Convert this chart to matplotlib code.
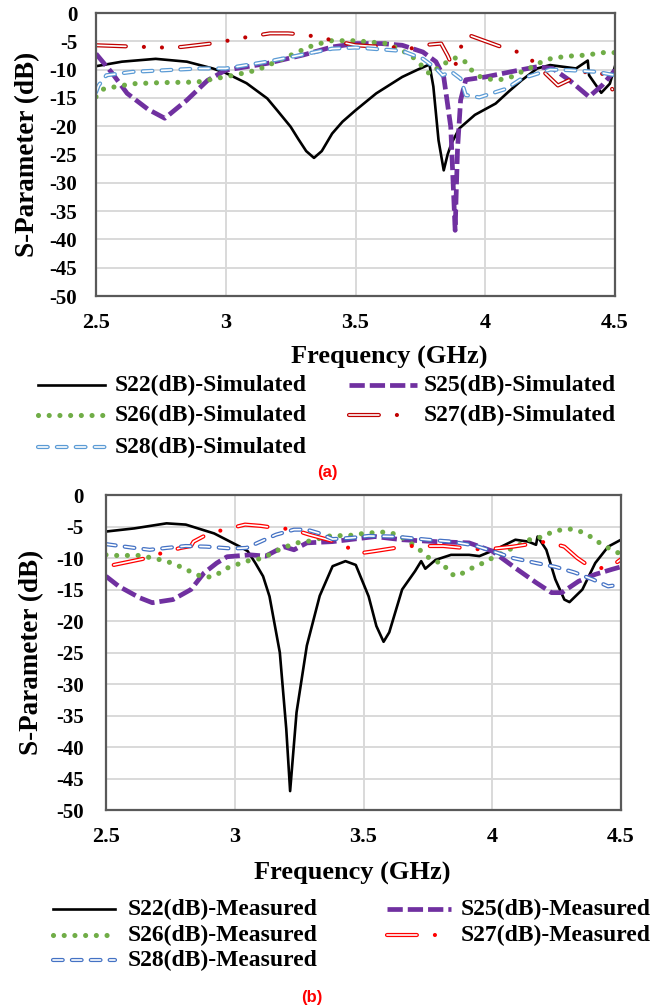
import matplotlib
matplotlib.use("Agg")
import matplotlib.pyplot as plt
from matplotlib.lines import Line2D

plt.rcParams['lines.scale_dashes'] = False
plt.rcParams['font.family'] = ['Liberation Serif', 'DejaVu Serif']
plt.rcParams['font.weight'] = 'bold'

# ---------------- data: (a) simulated ----------------
s22_sim_f = [2.50, 2.60, 2.73, 2.85, 2.95, 3.00, 3.08, 3.16, 3.20, 3.25, 3.28, 3.31, 3.34, 3.37, 3.41,
             3.45, 3.50, 3.58, 3.68, 3.74, 3.785, 3.80, 3.82, 3.84, 3.855, 3.87, 3.90, 3.96, 4.04, 4.09,
             4.14, 4.20, 4.25, 4.35, 4.395, 4.40, 4.447, 4.48, 4.50]
s22_sim_db = [-9.4, -8.6, -8.1, -8.6, -9.8, -10.6, -12.4, -15.1, -17.3, -20.1, -22.3, -24.4, -25.6, -24.4, -21.3,
              -19.2, -17.2, -14.2, -11.3, -10.0, -9.1, -13.0, -22.5, -27.8, -25.0, -23.0, -20.4, -18.0, -16.0, -13.9,
              -11.9, -9.8, -9.2, -9.8, -8.4, -11.0, -14.1, -12.5, -9.4]

s25_sim_f = [2.50, 2.56, 2.62, 2.70, 2.765, 2.85, 2.93, 3.00, 3.08, 3.16, 3.30, 3.41, 3.50, 3.60, 3.68,
             3.76, 3.81, 3.84, 3.867, 3.884, 3.893, 3.905, 3.925, 4.00, 4.13, 4.20, 4.26, 4.325, 4.40, 4.45, 4.50]
s25_sim_db = [-7.2, -10.5, -14.2, -17.0, -18.6, -15.4, -11.9, -10.1, -9.5, -8.9, -7.4, -6.0, -5.4, -5.4, -5.7,
              -6.9, -8.6, -11.3, -20.1, -38.4, -24.2, -15.4, -11.8, -11.3, -10.1, -9.5, -9.8, -11.9, -14.8, -12.8, -10.1]

s26_sim_f = [2.50, 2.53, 2.64, 2.75, 2.89, 2.96, 3.03, 3.12, 3.22, 3.32, 3.40, 3.50, 3.62, 3.68, 3.73,
             3.786, 3.835, 3.887, 3.92, 3.945, 3.977, 4.02, 4.055, 4.10, 4.13, 4.17, 4.21, 4.25, 4.29, 4.33,
             4.37, 4.41, 4.45, 4.50]
s26_sim_db = [-14.8, -13.4, -12.5, -12.3, -12.2, -11.6, -11.0, -10.1, -8.1, -6.0, -4.9, -4.9, -5.4, -6.6, -8.1,
              -10.8, -9.1, -7.9, -8.5, -10.0, -11.2, -11.7, -11.8, -11.3, -10.6, -9.8, -8.8, -8.1, -7.8, -7.6,
              -7.5, -7.3, -7.0, -7.0]

s27_sim_f = [2.50, 2.62, 2.69, 2.76, 2.83, 2.96, 3.03, 3.10, 3.17, 3.24, 3.30, 3.37, 3.44, 3.50, 3.57,
             3.63, 3.71, 3.78, 3.83, 3.855, 3.88, 3.90, 3.93, 3.99, 4.05, 4.12, 4.18, 4.23, 4.28, 4.34,
             4.40, 4.45, 4.49]
s27_sim_db = [-5.7, -5.9, -6.0, -6.1, -6.0, -5.3, -4.7, -4.1, -3.6, -3.6, -3.8, -4.4, -5.1, -5.7, -5.9,
              -6.0, -6.3, -5.6, -5.4, -7.5, -10.1, -6.6, -3.8, -4.8, -5.8, -6.8, -8.4, -10.6, -12.8, -11.5,
              -10.1, -10.7, -13.5]

s28_sim_f = [2.50, 2.51, 2.54, 2.64, 2.77, 2.90, 3.00, 3.16, 3.28, 3.41, 3.50, 3.68, 3.76, 3.81, 3.835,
             3.87, 3.905, 3.925, 3.977, 4.08, 4.14, 4.25, 4.325, 4.43, 4.50]
s28_sim_db = [-14.0, -12.8, -11.0, -10.4, -10.1, -9.8, -9.8, -8.6, -7.5, -6.3, -6.1, -6.7, -8.1, -9.8, -11.0,
              -10.4, -11.6, -14.5, -14.9, -13.4, -11.6, -10.0, -10.1, -10.4, -11.0]

# ---------------- data: (b) measured ----------------
s22_mea_f = [2.50, 2.61, 2.735, 2.81, 2.92, 3.02, 3.05, 3.08, 3.11, 3.135, 3.175, 3.20, 3.215, 3.24, 3.28,
             3.33, 3.38, 3.43, 3.47, 3.52, 3.55, 3.578, 3.60, 3.65, 3.70, 3.724, 3.74, 3.78, 3.84, 3.91,
             3.95, 4.01, 4.09, 4.14, 4.17, 4.176, 4.21, 4.245, 4.28, 4.30, 4.35, 4.40, 4.45, 4.50]
s22_mea_db = [-5.8, -5.3, -4.5, -4.7, -6.1, -8.2, -8.9, -10.8, -12.9, -16.1, -25.0, -37.1, -47.0, -34.5, -23.9,
              -16.0, -11.3, -10.5, -11.1, -16.1, -20.8, -23.3, -21.8, -15.0, -12.1, -10.5, -11.7, -10.3, -9.5, -9.5,
              -9.7, -8.7, -7.1, -7.4, -7.9, -6.6, -8.7, -13.4, -16.6, -17.0, -15.0, -10.8, -8.2, -7.1]

s25_mea_f = [2.50, 2.55, 2.63, 2.68, 2.76, 2.83, 2.88, 2.93, 2.97, 3.06, 3.12, 3.19, 3.23, 3.28, 3.38,
             3.545, 3.65, 3.78, 3.91, 4.00, 4.09, 4.17, 4.23, 4.27, 4.335, 4.40, 4.465, 4.50]
s25_mea_db = [-12.9, -14.5, -16.3, -17.1, -16.6, -15.0, -12.4, -10.8, -9.8, -9.5, -9.7, -8.2, -8.7, -7.6, -7.4,
              -6.6, -7.1, -7.4, -7.6, -8.9, -11.6, -13.9, -15.5, -15.5, -13.7, -12.6, -11.8, -11.4]

s26_mea_f = [2.50, 2.53, 2.63, 2.68, 2.735, 2.79, 2.84, 2.88, 2.92, 2.97, 3.045, 3.09, 3.12, 3.16, 3.20,
             3.24, 3.28, 3.38, 3.435, 3.48, 3.56, 3.60, 3.64, 3.675, 3.71, 3.74, 3.77, 3.81, 3.83, 3.86,
             3.895, 3.93, 3.97, 4.00, 4.04, 4.08, 4.12, 4.16, 4.195, 4.23, 4.27, 4.31, 4.35, 4.39, 4.42,
             4.455, 4.50]
s26_mea_db = [-9.5, -9.6, -9.6, -10.0, -10.5, -11.4, -12.4, -13.1, -12.9, -11.6, -10.5, -10.2, -9.8, -8.9, -8.2,
              -7.6, -7.4, -6.4, -6.5, -6.2, -5.9, -5.9, -6.5, -7.4, -8.4, -9.5, -10.5, -10.8, -12.3, -12.9,
              -12.2, -11.4, -10.7, -10.0, -9.2, -8.4, -7.6, -6.8, -6.7, -5.9, -5.5, -5.4, -5.9, -6.8, -7.7,
              -8.5, -9.4]

s27_mea_f = [2.53, 2.66, 2.725, 2.79, 2.83, 2.84, 2.90, 2.97, 3.04, 3.10, 3.17, 3.22, 3.29, 3.39, 3.41,
             3.477, 3.545, 3.67, 3.74, 3.81, 3.94, 4.01, 4.08, 4.21, 4.28, 4.33, 4.38, 4.45, 4.50]
s27_mea_db = [-11.1, -10.0, -9.1, -8.4, -8.1, -7.4, -6.1, -5.4, -4.7, -4.9, -5.3, -5.4, -6.3, -7.4, -7.6,
              -9.3, -8.9, -8.1, -8.1, -8.1, -8.6, -8.5, -8.2, -7.4, -8.2, -10.0, -11.4, -11.7, -10.2]

s28_mea_f = [2.50, 2.61, 2.67, 2.735, 2.81, 2.89, 2.99, 3.045, 3.10, 3.16, 3.23, 3.28, 3.33, 3.38, 3.455,
             3.52, 3.62, 3.75, 3.84, 3.93, 4.00, 4.08, 4.17, 4.245, 4.32, 4.39, 4.45, 4.50]
s28_mea_db = [-7.8, -8.4, -8.7, -8.4, -8.1, -8.2, -8.5, -8.4, -7.4, -6.3, -5.5, -5.5, -6.1, -7.0, -6.8,
              -6.5, -6.6, -7.1, -7.4, -8.0, -8.9, -10.0, -10.8, -11.4, -12.3, -13.4, -14.5, -14.2]

x_ticks = [2.5, 3.0, 3.5, 4.0, 4.5]
x_tick_labels = ['2.5', '3', '3.5', '4', '4.5']
y_ticks = [0, -5, -10, -15, -20, -25, -30, -35, -40, -45, -50]
y_tick_labels = ['0', '-5', '-10', '-15', '-20', '-25', '-30', '-35', '-40', '-45', '-50']

labels_sim = ['S22(dB)-Simulated', 'S25(dB)-Simulated', 'S26(dB)-Simulated',
              'S27(dB)-Simulated', 'S28(dB)-Simulated']
labels_mea = ['S22(dB)-Measured', 'S25(dB)-Measured', 'S26(dB)-Measured',
              'S27(dB)-Measured', 'S28(dB)-Measured']

BLACK = '#000000'
PURPLE = '#7030A0'
GREEN = '#70AD47'
RED_A = '#C00000'
RED_B = '#FF0000'
BLUE_A = '#5B9BD5'
BLUE_B = '#4472C4'

W, H = 670, 1005


def fx(px):
    return px / W


def fy(py):
    return 1 - py / H


def styled(x, y, kind, color, **kw):
    if kind == 'solid':
        return [Line2D(x, y, color=color, lw=1.9, solid_joinstyle='round', **kw)]
    if kind == 'dash':
        return [Line2D(x, y, color=color, lw=3.4, dashes=(11, 3.6), dash_capstyle='butt',
                       dash_joinstyle='round', **kw)]
    if kind == 'dot':
        return [Line2D(x, y, color=color, lw=3.7, dashes=(0.01, 7.7), dash_capstyle='round', **kw)]
    if kind == 'ddash':
        pat = (7, 6.6)
        return [Line2D(x, y, color=color, lw=3.0, dashes=pat, dash_capstyle='round', **kw),
                Line2D(x, y, color='white', lw=1.2, dashes=pat, dash_capstyle='round', **kw)]
    if kind == 'dashdotdot':
        return [Line2D(x, y, color=color, lw=3.0, dashes=(21.5, 13, 0.01, 13, 0.01, 13),
                       dash_capstyle='round', **kw),
                Line2D(x, y, color='white', lw=1.2, dashes=(21.5, 39.02), dash_capstyle='round', **kw)]
    if kind == 'dashdot':
        return [Line2D(x, y, color=color, lw=3.0, dashes=(21.5, 13, 0.01, 13),
                       dash_capstyle='round', **kw),
                Line2D(x, y, color='white', lw=1.2, dashes=(21.5, 26.01), dash_capstyle='round', **kw)]


fig = plt.figure(figsize=(6.7, 10.05), dpi=100)


def setup_axes(rect_px, ypad, ylabel_x):
    l, r, t, b = rect_px
    ax = fig.add_axes([fx(l), fy(b), (r - l) / W, (b - t) / H])
    ax.set_xlim(2.5, 4.5)
    ax.set_ylim(-50, 0)
    ax.set_xticks(x_ticks)
    ax.set_xticklabels(x_tick_labels)
    ax.set_yticks(y_ticks)
    ax.set_yticklabels(y_tick_labels)
    ax.tick_params(axis='both', length=0)
    ax.tick_params(axis='x', labelsize=16, pad=12)
    ax.tick_params(axis='y', labelsize=15, pad=ypad)
    ax.grid(True, color='#D9D9D9', lw=1.4)
    ax.set_axisbelow(True)
    for s in ax.spines.values():
        s.set_color('#595959')
        s.set_linewidth(1.6)
    fig.text(fx(ylabel_x), fy((t + b) / 2), 'S-Parameter (dB)', rotation=90,
             ha='center', va='center', fontsize=19.5)
    return ax


def draw_series(ax, series):
    for z, (f, d, kind, col) in enumerate(series):
        for ln in styled(f, d, kind, col):
            ln.set_zorder(2 + z * 0.1)
            ax.add_line(ln)


def draw_legend(rows, col1, col2, items, labels):
    for (kind, col, c, r), lab in zip(items, labels):
        x0, x1, xt = col1 if c == 0 else col2
        y = rows[r]
        if kind in ('dashdot', 'dashdotdot'):
            x1 = x0 + 52
        for ln in styled([fx(x0), fx(x1)], [fy(y), fy(y)], kind, col, transform=fig.transFigure):
            fig.add_artist(ln)
        fig.text(fx(xt), fy(y), lab, ha='left', va='center', fontsize=17)


# ---------------- (a) ----------------
ax1 = setup_axes((96, 615, 13, 296), ypad=13.5, ylabel_x=28)
draw_series(ax1, [
    (s22_sim_f, s22_sim_db, 'solid', BLACK),
    (s25_sim_f, s25_sim_db, 'dash', PURPLE),
    (s26_sim_f, s26_sim_db, 'dot', GREEN),
    (s27_sim_f, s27_sim_db, 'dashdotdot', RED_A),
    (s28_sim_f, s28_sim_db, 'ddash', BLUE_A),
])
fig.text(fx(389), fy(357), 'Frequency (GHz)', ha='center', va='center', fontsize=19)
draw_legend([385, 415, 447], (38, 105, 115), (349, 417, 424), [
    ('solid', BLACK, 0, 0), ('dash', PURPLE, 1, 0), ('dot', GREEN, 0, 1),
    ('dashdot', RED_A, 1, 1), ('ddash', BLUE_A, 0, 2)],
    [labels_sim[0], labels_sim[1], labels_sim[2], labels_sim[3], labels_sim[4]])
fig.text(fx(327), fy(472), '(a)', ha='center', va='center', fontsize=12,
         color='#FF0000', family='Liberation Sans', weight='bold')

# ---------------- (b) ----------------
ax2 = setup_axes((106, 621, 495, 810), ypad=16, ylabel_x=32)
draw_series(ax2, [
    (s22_mea_f, s22_mea_db, 'solid', BLACK),
    (s25_mea_f, s25_mea_db, 'dash', PURPLE),
    (s26_mea_f, s26_mea_db, 'dot', GREEN),
    (s27_mea_f, s27_mea_db, 'dashdot', RED_B),
    (s28_mea_f, s28_mea_db, 'ddash', BLUE_B),
])
fig.text(fx(352), fy(873), 'Frequency (GHz)', ha='center', va='center', fontsize=19)
draw_legend([909, 935, 960], (53, 115, 128), (387, 451, 461), [
    ('solid', BLACK, 0, 0), ('dash', PURPLE, 1, 0), ('dot', GREEN, 0, 1),
    ('dashdot', RED_B, 1, 1), ('ddash', BLUE_B, 0, 2)],
    [labels_mea[0], labels_mea[1], labels_mea[2], labels_mea[3], labels_mea[4]])
fig.text(fx(312), fy(997), '(b)', ha='center', va='center', fontsize=12,
         color='#FF0000', family='Liberation Sans', weight='bold')

fig.savefig('out.png', dpi=100)
